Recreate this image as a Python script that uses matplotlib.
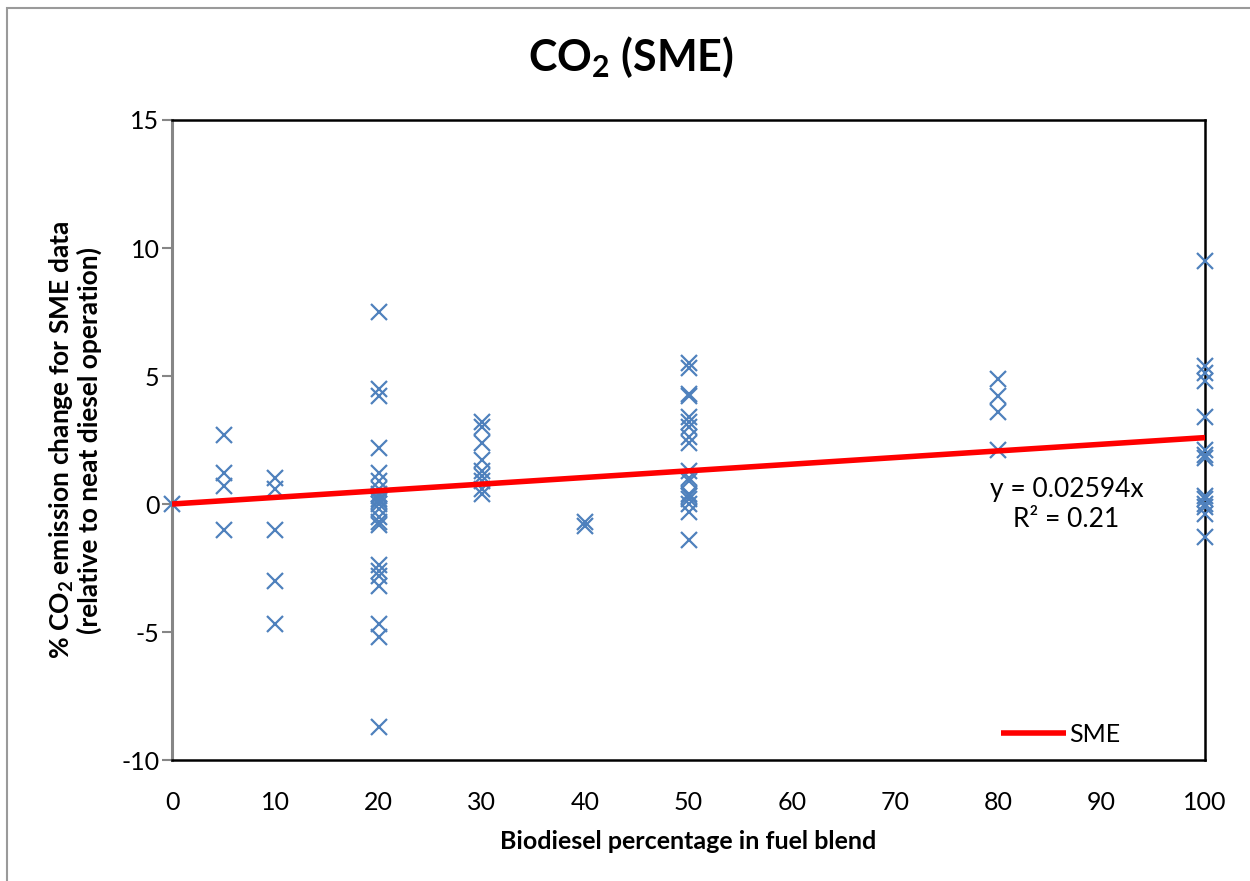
import matplotlib
matplotlib.use("Agg")
import matplotlib.pyplot as plt
from matplotlib.patches import Rectangle
import numpy as np

plt.rcParams['font.family'] = ['Lato', 'DejaVu Sans']
plt.rcParams['mathtext.fontset'] = 'custom'
plt.rcParams['mathtext.rm'] = 'Lato'
plt.rcParams['mathtext.bf'] = 'Lato:bold'
plt.rcParams['axes.unicode_minus'] = False

blend_0 = [0.0]
blend_5 = [2.7, 1.2, 0.7, -1.0]
blend_10 = [1.0, 0.6, -1.0, -3.0, -4.7]
blend_20 = [7.5, 4.5, 4.2, 2.2, 1.2, 0.9, 0.6, 0.4, 0.3, 0.2, 0.1, 0.0,
            -0.2, -0.5, -0.7, -0.8, -2.4, -2.6, -2.8, -3.2, -4.7, -5.2, -8.7]
blend_30 = [3.2, 3.0, 2.4, 1.7, 1.3, 1.1, 0.9, 0.6, 0.4]
blend_40 = [-0.7, -0.85]
blend_50 = [5.5, 5.3, 4.3, 4.2, 3.4, 3.2, 3.0, 2.6, 2.4, 1.3, 1.0, 0.9,
            0.4, 0.3, 0.2, 0.0, -0.3, -1.4]
blend_80 = [4.9, 4.2, 3.6, 2.1]
blend_100 = [9.5, 5.4, 5.1, 4.8, 3.4, 2.1, 1.9, 1.8, 0.3, 0.2, 0.0, -0.1,
             -0.4, -1.3]

groups = {0: blend_0, 5: blend_5, 10: blend_10, 20: blend_20, 30: blend_30,
          40: blend_40, 50: blend_50, 80: blend_80, 100: blend_100}

slope = 0.02594
r2 = 0.21
trend_x = [0, 100]

fig = plt.figure(figsize=(12.5, 8.81), dpi=100)
ax = fig.add_axes([0.1376, 0.1373, 0.8264, 0.7265])

xs, ys = [], []
for b, vals in groups.items():
    xs += [b] * len(vals)
    ys += vals
ax.plot(xs, ys, ls='none', marker='x', ms=11, mew=1.6, color='#4f81bd',
        clip_on=False, zorder=3)

tx = np.array(trend_x)
ax.plot(tx, slope * tx, color='#ff0000', lw=4, label='SME', zorder=4,
        solid_capstyle='butt')

ax.text(86.6, 0.55, 'y = 0.02594x', fontsize=19, ha='center', va='center')
ax.text(86.6, -0.6, 'R² = %.2f' % r2, fontsize=19, ha='center', va='center')

ax.set_xlim(0, 100)
ax.set_ylim(-10, 15)
ax.set_xticks(range(0, 101, 10))
ax.set_yticks(range(-10, 16, 5))
ax.tick_params(axis='x', length=0, pad=22, labelsize=18)
ax.tick_params(axis='y', length=7, width=1.5, color='#868686', labelsize=18,
               pad=2, direction='out')

for s in ['top', 'right', 'bottom']:
    ax.spines[s].set_color('black')
    ax.spines[s].set_linewidth(1.8)
ax.spines['left'].set_color('#868686')
ax.spines['left'].set_linewidth(2.2)

ax.set_xlabel('Biodiesel percentage in fuel blend', fontsize=18,
              fontweight='bold', labelpad=12)
ax.set_ylabel('% CO$_\\mathbf{2}$ emission change for SME data\n'
              '(relative to neat diesel operation)', fontsize=19,
              fontweight='bold', labelpad=14, linespacing=1.05)
fig.text(0.505, 0.935, 'CO$_\\mathbf{2}$ (SME)', fontsize=31,
         fontweight='bold', ha='center', va='center')

leg = ax.legend(loc='lower right', bbox_to_anchor=(0.94, -0.013), frameon=False,
                fontsize=18, handlelength=2.6, handletextpad=0.15)

fig.patches.append(Rectangle((7 / 1250, -0.1), 1.2, 1.1 - 8 / 881,
                             transform=fig.transFigure, fill=False,
                             edgecolor='#9a9a9a', lw=1.5))

fig.savefig('out.png', dpi=100)
